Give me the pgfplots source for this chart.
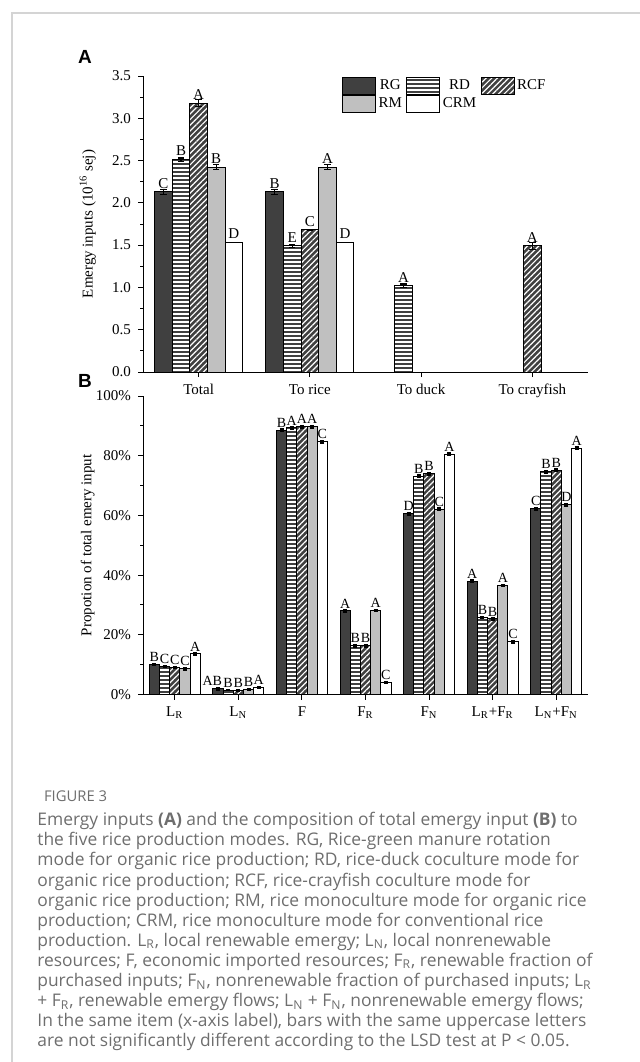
\documentclass[border=0pt]{standalone}
\usepackage{fontspec}
\setmainfont{Liberation Serif}
\newfontfamily\capfont{Open Sans}
\newfontfamily\labfont{Liberation Sans}
\usepackage{pgfplots}
\pgfplotsset{compat=1.18}
\usepackage{pgfplotstable}
\usetikzlibrary{patterns.meta}
\definecolor{dk}{HTML}{404040}
\definecolor{lg}{HTML}{C0C0C0}
\definecolor{capgray}{HTML}{6E6E6E}
\definecolor{framegray}{HTML}{D4D4D4}

% ---------- Panel A data ----------
\pgfplotstableread{
x y e l
0 2.13 0.03 C
1 2.13 0.03 B
}\ArG
\pgfplotstableread{
x y e l
0 2.51 0.02 B
1 1.49 0.015 E
2 1.02 0.02 A
}\ArD
\pgfplotstableread{
x y e l
0 3.18 0.04 A
1 1.68 0.0 C
3 1.49 0.04 A
}\ArCF
\pgfplotstableread{
x y e l
0 2.42 0.03 B
1 2.42 0.03 A
}\ArM
\pgfplotstableread{
x y e l
0 1.53 0.0 D
1 1.53 0.0 D
}\AcRM

% ---------- Panel B data ----------
\pgfplotstableread{
x y e l dx
0 10.0 0.3 B 0
1 1.9 0.3 AB -2.8
2 88.5 0.4 B 0
3 28.0 0.3 A 0
4 60.6 0.4 D 0
5 38.0 0.3 A 0
6 62.2 0.4 C 0
}\BrG
\pgfplotstableread{
x y e l
0 9.3 0.3 C
1 1.5 0.2 B
2 89.3 0.4 A
3 16.4 0.4 B
4 73.2 0.4 B
5 25.8 0.4 B
6 74.6 0.4 B
}\BrD
\pgfplotstableread{
x y e l
0 9.0 0.3 C
1 1.3 0.2 B
2 89.7 0.4 A
3 16.4 0.4 B
4 73.9 0.4 B
5 25.3 0.4 B
6 75.2 0.4 B
}\BrCF
\pgfplotstableread{
x y e l
0 8.6 0.3 C
1 1.7 0.2 B
2 89.7 0.4 A
3 28.2 0.3 A
4 62.0 0.4 C
5 36.6 0.3 A
6 63.6 0.4 D
}\BrM
\pgfplotstableread{
x y e l
0 13.6 0.3 A
1 2.4 0.2 A
2 84.6 0.4 C
3 4.0 0.3 C
4 80.5 0.4 A
5 17.6 0.3 C
6 82.5 0.4 A
}\BcRM

\pgfplotsset{
  rg/.style={fill=dk, draw=black, line width=0.5pt},
  rd/.style={fill=dk, draw=black, line width=0.5pt,
    postaction={draw=black, pattern color=white, pattern={Lines[angle=0,distance=2pt,line width=0.7pt]}}},
  rcf/.style={fill=dk, draw=black, line width=0.5pt,
    postaction={draw=black, pattern color=white, pattern={Lines[angle=45,distance=2pt,line width=0.6pt]}}},
  rm/.style={fill=lg, draw=black, line width=0.5pt},
  crm/.style={fill=white, draw=black, line width=0.5pt},
  common/.style={
    scale only axis,
    axis x line*=bottom, axis y line*=left,
    axis line style={line width=0.5pt},
    tick align=outside, major tick length=2.5pt, minor tick length=1.5pt,
    every tick/.style={black, line width=0.5pt},
    minor y tick num=1,
    ybar=0pt,
    /pgf/number format/assume math mode=true,
    font=\fontsize{7.5}{9}\selectfont,
    ticklabel style={font=\fontsize{7.5}{9}\selectfont},
    point meta=explicit symbolic,
    nodes near coords,
    every node near coord/.append style={font=\fontsize{7.5}{8}\selectfont, inner xsep=0.2pt, inner ysep=1.6pt, black},
    error bars/y dir=both, error bars/y explicit,
    error bars/error bar style={black, line width=0.6pt},
    error bars/error mark options={rotate=90, black, mark size=1.6pt, line width=0.6pt},
  },
}

\begin{document}
\begin{tikzpicture}
\useasboundingbox (0pt,0pt) rectangle (320pt,-531pt);
\draw[framegray, line width=0.6pt] (6pt,-531pt) -- (6pt,-6.5pt) -- (320pt,-6.5pt);

\node[font=\labfont\bfseries\fontsize{9.5}{10}\selectfont] at (42.5pt,-28.5pt) {A};
\node[font=\labfont\bfseries\fontsize{9.5}{10}\selectfont] at (42.5pt,-190.5pt) {B};

% ---------------- Panel A ----------------
\begin{axis}[common,
  at={(71.5pt,-186pt)}, anchor=south west,
  width=222.5pt, height=148pt,
  xmin=-0.5, xmax=3.5, ymin=0, ymax=3.5,
  bar width=8.8pt,
  xtick={0,1,2,3}, xticklabels={Total, To rice, To duck, To crayfish},
  ytick={0,0.5,...,3.5},
  yticklabel style={/pgf/number format/.cd, fixed, fixed zerofill, precision=1},
  ylabel={Emergy inputs (10\textsuperscript{16} sej)},
  ylabel style={at={(axis description cs:-0.124,0.5)}, anchor=center, font=\fontsize{7.5}{9}\selectfont},
  legend columns=3,
  legend style={draw=none, fill=none, at={(0.447,0.997)}, anchor=north west,
    inner sep=0pt, font=\fontsize{7.5}{9}\selectfont,
    /tikz/every even column/.append style={column sep=1pt},
    nodes={inner sep=1.2pt}},
  legend image code/.code={\draw[#1] (0pt,-4.2pt) rectangle (16.5pt,4.2pt);},
]
\addplot[rg]  table[x=x,y=y,y error=e,meta=l] {\ArG};
\addplot[rd]  table[x=x,y=y,y error=e,meta=l] {\ArD};
\addplot[rcf] table[x=x,y=y,y error=e,meta=l] {\ArCF};
\addplot[rm]  table[x=x,y=y,y error=e,meta=l] {\ArM};
\addplot[crm] table[x=x,y=y,y error=e,meta=l] {\AcRM};
\legend{RG,RD,RCF,RM,CRM}
\end{axis}

% ---------------- Panel B ----------------
\begin{axis}[common,
  at={(71.5pt,-347.25pt)}, anchor=south west,
  width=222.5pt, height=149.25pt,
  xmin=-0.5, xmax=6.5, ymin=0, ymax=100,
  bar width=5.1pt,
  xtick={0,...,6},
  xticklabels={L\textsubscript{R}, L\textsubscript{N}, F, F\textsubscript{R}, F\textsubscript{N}, L\textsubscript{R}+F\textsubscript{R}, L\textsubscript{N}+F\textsubscript{N}},
  ytick={0,20,...,100},
  yticklabel={\pgfmathprintnumber{\tick}\%},
  ylabel={Propotion of total emery input},
  ylabel style={at={(axis description cs:-0.124,0.5)}, anchor=center, font=\fontsize{7.5}{9}\selectfont},
  every node near coord/.append style={font=\fontsize{7}{8}\selectfont, inner xsep=0pt, inner ysep=1.2pt},
  error bars/error mark options={rotate=90, black, mark size=1.0pt, line width=0.8pt},
]
\addplot[rg, visualization depends on={\thisrow{dx} \as \dx},
  every node near coord/.append style={xshift=\dx}]
  table[x=x,y=y,y error=e,meta=l] {\BrG};
\addplot[rd]  table[x=x,y=y,y error=e,meta=l] {\BrD};
\addplot[rcf] table[x=x,y=y,y error=e,meta=l] {\BrCF};
\addplot[rm]  table[x=x,y=y,y error=e,meta=l] {\BrM};
\addplot[crm] table[x=x,y=y,y error=e,meta=l] {\BcRM};
\end{axis}

% ---------------- Caption ----------------
\node[anchor=west, text=capgray, font=\capfont\fontsize{7.4}{8}\selectfont] at (18.5pt,-398pt) {FIGURE 3};
\node[anchor=north west, inner sep=0pt, align=left, text=capgray, font=\capfont\fontsize{8.7}{10.05}\selectfont] at (18.5pt,-406pt) {%
Emergy inputs {\bfseries (A)} and the composition of total emergy input {\bfseries (B)} to\\
the five rice production modes. RG, Rice-green manure rotation\\
mode for organic rice production; RD, rice-duck coculture mode for\\
organic rice production; RCF, rice-crayfish coculture mode for\\
organic rice production; RM, rice monoculture mode for organic rice\\
production; CRM, rice monoculture mode for conventional rice\\
production. L\textsubscript{R}, local renewable emergy; L\textsubscript{N}, local nonrenewable\\
resources; F, economic imported resources; F\textsubscript{R}, renewable fraction of\\
purchased inputs; F\textsubscript{N}, nonrenewable fraction of purchased inputs; L\textsubscript{R}\\
+ F\textsubscript{R}, renewable emergy flows; L\textsubscript{N} + F\textsubscript{N}, nonrenewable emergy flows;\\
In the same item (x-axis label), bars with the same uppercase letters\\
are not significantly different according to the LSD test at P < 0.05.};
\end{tikzpicture}
\end{document}
